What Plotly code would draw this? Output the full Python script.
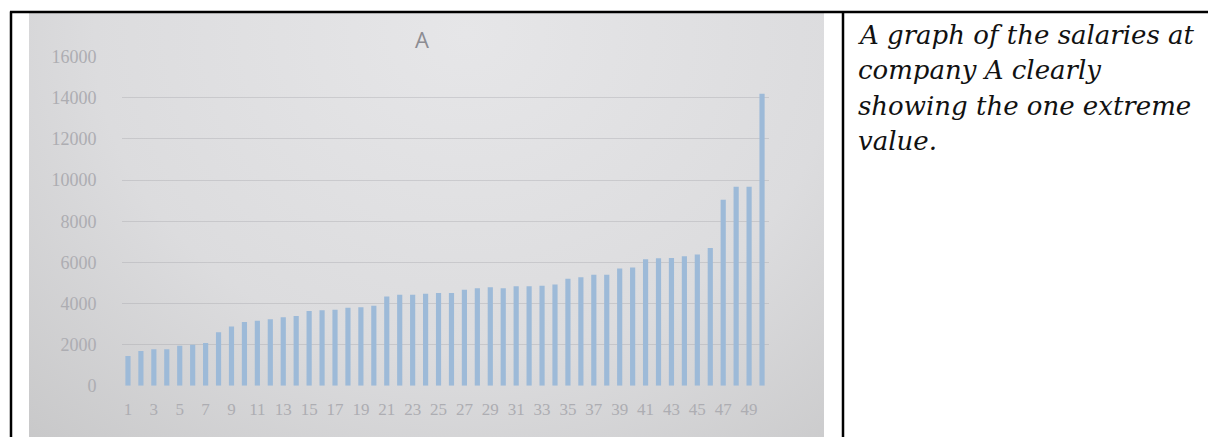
import base64
import plotly.graph_objects as go

W, H = 1208, 449

employees = list(range(1, 51))
salaries = [1450, 1700, 1780, 1780, 1950, 2000, 2080, 2600, 2880, 3100,
            3170, 3240, 3340, 3400, 3640, 3680, 3700, 3800, 3820, 3890,
            4340, 4430, 4430, 4480, 4510, 4510, 4670, 4750, 4790, 4750,
            4840, 4840, 4870, 4930, 5200, 5280, 5400, 5400, 5700, 5750,
            6150, 6200, 6220, 6300, 6380, 6700, 9040, 9680, 9680, 14200]
y_ticks = [0, 2000, 4000, 6000, 8000, 10000, 12000, 14000, 16000]
x_ticks = list(range(1, 50, 2))
title_text = "A"
caption_lines = ["A graph of the salaries at", "company A clearly",
                 "showing the one extreme", "value."]

# observed vertical mapping of the capture: shown_y = 0.957 * page_y + 8.4
VS, VO = 0.957, 8.4

def px(x):
    return x / W

def py(y):
    yy = (y - VO) / VS
    return max(0.0, min(1.0, 1 - yy / H))

# soft vignette for the photographed screen
svg = ('<svg xmlns="http://www.w3.org/2000/svg" width="795" height="445" viewBox="0 0 795 445" '
       'preserveAspectRatio="none"><defs><radialGradient id="g" cx="0.55" cy="0.05" r="0.85" '
       'gradientTransform="translate(0.55,0.05) scale(1,1.6) translate(-0.55,-0.05)">'
       '<stop offset="0" stop-color="#e6e6e8"/><stop offset="0.55" stop-color="#dcdcde"/>'
       '<stop offset="1" stop-color="#c6c6c7"/></radialGradient></defs>'
       '<rect width="795" height="445" fill="url(#g)"/></svg>')
svg_uri = "data:image/svg+xml;base64," + base64.b64encode(svg.encode()).decode()

fig = go.Figure()
fig.add_trace(go.Bar(x=employees, y=salaries, marker=dict(color="#9dbad8", line=dict(width=0)),
                     width=0.4))

shapes = []
shapes.append(dict(type="line", xref="paper", yref="paper", x0=px(10), x1=1, y0=py(11.5), y1=py(11.5),
                   line=dict(color="black", width=2.5)))
shapes.append(dict(type="line", xref="paper", yref="paper", x0=px(11), x1=px(11), y0=py(11), y1=0,
                   line=dict(color="black", width=2.5)))
shapes.append(dict(type="line", xref="paper", yref="paper", x0=px(843), x1=px(843), y0=py(11), y1=0,
                   line=dict(color="black", width=2.5)))

annotations = [dict(text=title_text, xref="paper", yref="paper", x=px(422), y=py(38), showarrow=False,
                    xanchor="center", yanchor="middle",
                    font=dict(family="Open Sans, sans-serif", size=22, color="#8c8c92"))]
for i, line in enumerate(caption_lines):
    annotations.append(dict(text=line, xref="paper", yref="paper", x=px(856), y=py(34 + 35.5 * i),
                            showarrow=False, xanchor="left", yanchor="middle",
                            font=dict(family="DejaVu Serif", size=26, color="#111111", style="italic")))

fig.update_layout(
    width=W, height=H,
    margin=dict(l=0, r=0, t=0, b=0),
    paper_bgcolor="white",
    plot_bgcolor="rgba(0,0,0,0)",
    showlegend=False,
    shapes=shapes,
    annotations=annotations,
    images=[dict(source=svg_uri, xref="paper", yref="paper", x=px(29), y=py(12),
                 sizex=px(824) - px(29), sizey=py(12), xanchor="left", yanchor="top",
                 sizing="stretch", layer="below")],
    xaxis=dict(domain=[px(121.5), px(768.5)], range=[0.5, 50.5], tickmode="array", tickvals=x_ticks,
               ticktext=[str(t) for t in x_ticks], showgrid=False, zeroline=False, showline=False,
               ticks="", tickfont=dict(family="Liberation Serif", size=17, color="#adadb2"),
               ticklabelstandoff=11),
    yaxis=dict(domain=[py(385), py(55.2)], range=[0, 16040], tickmode="array", tickvals=y_ticks,
               ticktext=[str(t) for t in y_ticks], showgrid=True, gridcolor="rgba(160,160,166,0.35)",
               gridwidth=1, zeroline=False, showline=False, ticks="",
               tickfont=dict(family="Liberation Serif", size=18, color="#adadb2"),
               ticklabelstandoff=24),
)

post = ("var s=document.createElement('style');"
        "s.textContent='html,body{margin:0!important;padding:0!important;width:1208px;height:449px;overflow:hidden;}';"
        "document.head.appendChild(s);"
        "var d=document.getElementById('{plot_id}');d.style.position='fixed';"
        "d.style.left='0px';d.style.top='0px';d.style.margin='0';")
fig.write_html("out.html", post_script=post, config={"displayModeBar": False})
